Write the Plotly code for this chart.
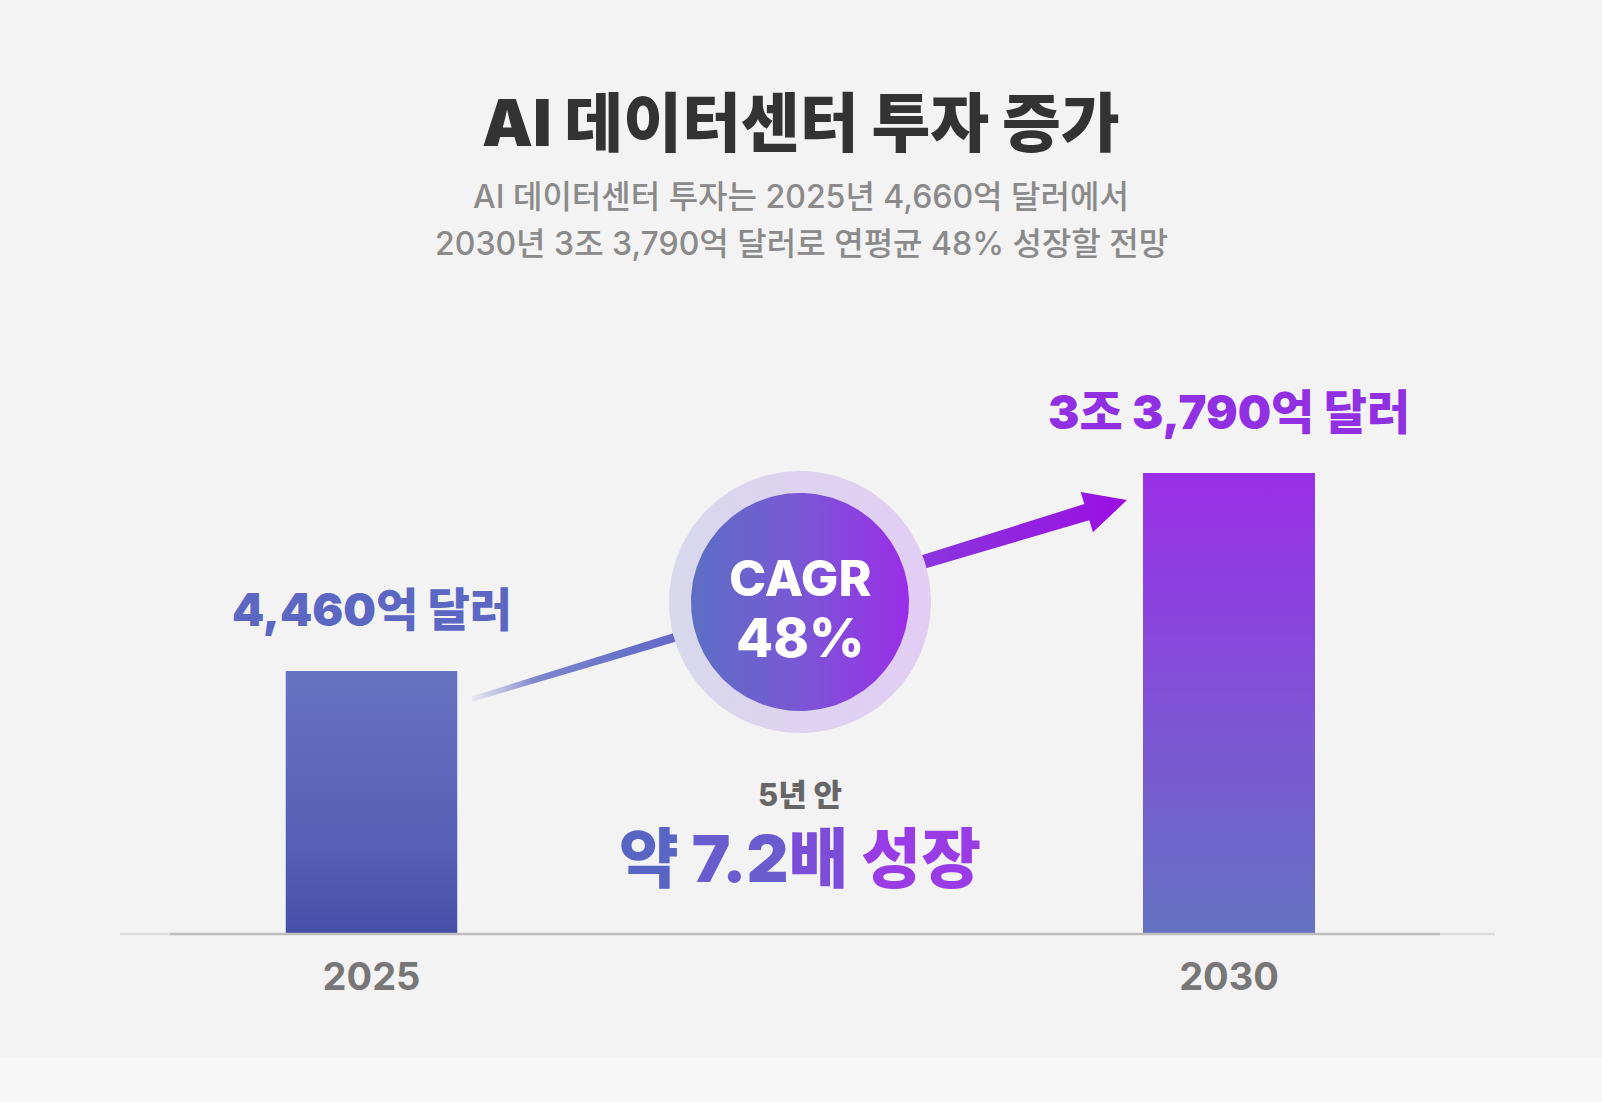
import math
import numpy as np
import plotly.graph_objects as go

# ---------------- data ----------------
years = ["2025", "2030"]
values = [4460, 33790]            # 억 달러
value_labels = ["4,460억 달러", "3조 3,790억 달러"]
value_colors = ["#5b67c2", "#9130e2"]
title_text = "AI 데이터센터 투자 증가"
subtitle_lines = ["AI 데이터센터 투자는 2025년 4,660억 달러에서",
                  "2030년 3조 3,790억 달러로 연평균 48% 성장할 전망"]
cagr_lines = ["CAGR", "48%"]
growth_pre = "5년 안"
growth_parts = ["약", " 7.2", "배", " 성장"]
growth_colors = ["#5865c4", "#6a5bcf", "#7b4dd8", "#9a3ce6"]

# ---------------- layout constants (pixels) ----------------
W, H = 1602, 1102
BASE_PX = 933
TOP_PX = [671, 473]
CENTER_PX = [371.5, 1229.0]
BAR_W = 0.2
FONT = "Inter, 'Noto Sans CJK KR', 'Noto Sans', sans-serif"

unit = CENTER_PX[1] - CENTER_PX[0]
x_range = [-CENTER_PX[0] / unit, (W - CENTER_PX[0]) / unit]
lv = [math.log10(v) for v in values]
px_per_dec = (TOP_PX[0] - TOP_PX[1]) / (lv[1] - lv[0])
y_lo = lv[0] - (BASE_PX - TOP_PX[0]) / px_per_dec
y_hi = y_lo + BASE_PX / px_per_dec

fig = go.Figure()

# data bars (log axis)
fig.add_trace(go.Bar(
    x=[0, 1], y=values, width=BAR_W,
    marker=dict(color=["#5660b6", "#7e55d2"], line=dict(width=0)),
    hovertext=value_labels, hoverinfo="text", showlegend=False,
    xaxis="x", yaxis="y",
))

# gradient overlay for the same bars
bar_scales = [
    [[0, "#4650a8"], [0.35, "#5660b6"], [1, "#6672c2"]],
    [[0, "#6472c2"], [0.5, "#8052d6"], [1, "#9a2ee8"]],
]
ybot = 10 ** y_lo
for i, v in enumerate(values):
    xs = [i - BAR_W / 2, i + BAR_W / 2, i + BAR_W / 2, i - BAR_W / 2, i - BAR_W / 2]
    ys = [ybot, ybot, v, v, ybot]
    fig.add_trace(go.Scatter(
        x=xs, y=ys, mode="lines", line=dict(width=0), fill="toself",
        fillgradient=dict(type="vertical", colorscale=bar_scales[i]),
        hoverinfo="skip", showlegend=False, xaxis="x", yaxis="y",
    ))

# ---------------- decorations in pixel space (x2/y2) ----------------
# arrow
S = np.array([472.0, 699.0])
T = np.array([1127.0, 500.0])
u = (T - S) / np.linalg.norm(T - S)
n = np.array([-u[1], u[0]])
B = T - 42 * u
pts = [S + n * 2.5, B + n * 8.5, B + n * 21, T, B - n * 21, B - n * 8.5, S - n * 2.5, S + n * 2.5]
fig.add_trace(go.Scatter(
    x=[p[0] for p in pts], y=[p[1] for p in pts], mode="lines", line=dict(width=0),
    fill="toself",
    fillgradient=dict(type="horizontal", colorscale=[
        [0, "rgba(120,130,205,0.10)"], [0.10, "rgba(104,114,198,0.85)"],
        [0.25, "#6470c6"], [0.6, "#8440dc"], [1, "#9b0fe2"]]),
    hoverinfo="skip", showlegend=False, xaxis="x2", yaxis="y2",
))

# circle halo + inner
CX, CY = 800.0, 602.0
th = np.linspace(0, 2 * np.pi, 181)
for r, cs in [
    (131, [[0, "#d8d8ec"], [1, "#e2cdf4"]]),
    (109, [[0, "#5c6fc4"], [0.5, "#7a57d5"], [1, "#9b2de8"]]),
]:
    fig.add_trace(go.Scatter(
        x=CX + r * np.cos(th), y=CY + r * np.sin(th), mode="lines", line=dict(width=0),
        fill="toself", fillgradient=dict(type="horizontal", colorscale=cs),
        hoverinfo="skip", showlegend=False, xaxis="x2", yaxis="y2",
    ))

# ---------------- annotations ----------------
ann = []
def px_text(text, x, y, size, color, weight="bold"):
    ann.append(dict(text=text, x=x, y=y, xref="x2", yref="y2", showarrow=False,
                    xanchor="center", yanchor="middle",
                    font=dict(family=FONT, size=size, color=color, weight=weight)))

px_text(title_text, 801, 122, 64, "#333333", weight=900)
px_text(subtitle_lines[0], 801, 196, 32, "#8a8a8a", weight=500)
px_text(subtitle_lines[1], 801, 243, 32, "#8a8a8a", weight=500)
px_text(cagr_lines[0], 800, 578, 50, "#ffffff", weight=800)
px_text(cagr_lines[1], 800, 637, 54, "#ffffff", weight=800)
px_text(growth_pre, 800, 794, 31, "#666666", weight=800)
growth_html = "".join(f"<span style='color:{c}'>{t}</span>" for t, c in zip(growth_parts, growth_colors))
px_text(growth_html, 800, 858, 65, "#7b4dd8", weight=900)

label_sizes = [46, 47]
for i, (lab, col) in enumerate(zip(value_labels, value_colors)):
    ann.append(dict(text=lab, x=i, y=math.log10(values[i]), xref="x", yref="y",
                    showarrow=False, xanchor="center", yanchor="middle", yshift=62,
                    font=dict(family=FONT, size=label_sizes[i], color=col, weight=900)))

# ---------------- shapes ----------------
shapes = [
    dict(type="rect", xref="x2", yref="y2", x0=0, x1=W, y0=1057, y1=H,
         fillcolor="#f6f6f6", line=dict(width=0), layer="below"),
    dict(type="line", xref="x2", yref="y2", x0=170, x1=1440, y0=BASE_PX + 1, y1=BASE_PX + 1,
         line=dict(color="#bdbdbd", width=2.5), layer="below"),
    dict(type="line", xref="x2", yref="y2", x0=120, x1=170, y0=BASE_PX + 1, y1=BASE_PX + 1,
         line=dict(color="#dcdcdc", width=2.5), layer="below"),
    dict(type="line", xref="x2", yref="y2", x0=1440, x1=1495, y0=BASE_PX + 1, y1=BASE_PX + 1,
         line=dict(color="#dcdcdc", width=2.5), layer="below"),
]

dom_bottom = (H - BASE_PX) / H
fig.update_layout(
    width=W, height=H,
    margin=dict(l=0, r=0, t=0, b=0),
    paper_bgcolor="#f3f3f3",
    plot_bgcolor="rgba(0,0,0,0)",
    showlegend=False,
    bargap=0,
    xaxis=dict(domain=[0, 1], range=x_range, tickvals=[0, 1], ticktext=years,
               showgrid=False, zeroline=False, showline=False, ticks="",
               tickfont=dict(family=FONT, size=38, color="#777777", weight="bold"),
               ticklabelstandoff=18, automargin=False, fixedrange=True, anchor="y"),
    yaxis=dict(domain=[dom_bottom, 1], type="log", range=[y_lo, y_hi],
               showgrid=False, zeroline=False, showline=False, showticklabels=False,
               ticks="", automargin=False, fixedrange=True, anchor="x"),
    xaxis2=dict(domain=[0, 1], range=[0, W], visible=False, anchor="y2", fixedrange=True),
    yaxis2=dict(domain=[0, 1], range=[H, 0], visible=False, anchor="x2", fixedrange=True),
    annotations=ann,
    shapes=shapes,
)

fig.write_html("out.html", config={"displayModeBar": False},
               post_script="document.body.style.margin='0';document.documentElement.style.margin='0';document.body.style.overflow='hidden';")
